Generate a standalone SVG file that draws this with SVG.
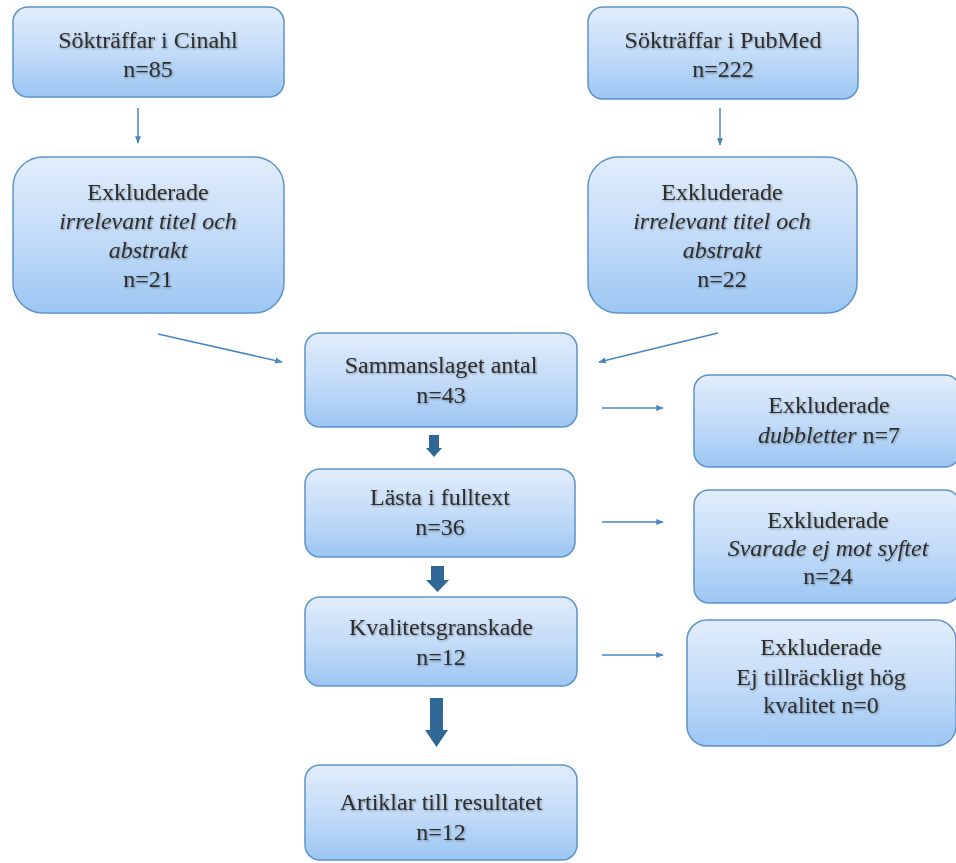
<svg xmlns="http://www.w3.org/2000/svg" width="956" height="863" viewBox="0 0 956 863">
<defs>
<linearGradient id="g" x1="0" y1="0" x2="0" y2="1">
<stop offset="0" stop-color="#e2edfb"/>
<stop offset="0.5" stop-color="#c4dcf8"/>
<stop offset="1" stop-color="#9cc6f3"/>
</linearGradient>
<filter id="ts" x="-5%" y="-20%" width="110%" height="150%">
<feGaussianBlur in="SourceAlpha" stdDeviation="1"/>
<feOffset dx="0.5" dy="1" result="b"/>
<feComponentTransfer><feFuncA type="linear" slope="0.35"/></feComponentTransfer>
<feMerge><feMergeNode/><feMergeNode in="SourceGraphic"/></feMerge>
</filter>
<marker id="ah" viewBox="0 0 10 10" refX="9" refY="5" markerWidth="5" markerHeight="5" orient="auto">
<path d="M0,1 L10,5 L0,9 z" fill="#4a86c0"/>
</marker>
</defs>
<style>
.box{fill:url(#g);stroke:#5f93c9;stroke-width:1.5}
.t{font-family:"Liberation Serif","Times New Roman",serif;font-size:24px;fill:#2e2e2e;text-anchor:middle;filter:url(#ts)}
.i{font-style:italic}
.ln{stroke:#4a86c0;stroke-width:1.5;fill:none;marker-end:url(#ah)}
.blk{fill:#2f6897}
</style>
<rect width="956" height="863" fill="#fff"/>
<g id="cinahl">
<rect class="box" x="13" y="7" width="271" height="90" rx="15"/>
<text class="t" x="148" y="48">Sökträffar i Cinahl</text>
<text class="t" x="148" y="77">n=85</text>
</g>
<g id="pubmed">
<rect class="box" x="588" y="7" width="270" height="92" rx="15"/>
<text class="t" x="723" y="48">Sökträffar i PubMed</text>
<text class="t" x="723" y="77">n=222</text>
</g>
<g id="exkl-cinahl">
<rect class="box" x="13" y="157" width="271" height="156" rx="30"/>
<text class="t" x="148" y="200">Exkluderade</text>
<text class="t i" x="148" y="229">irrelevant titel och</text>
<text class="t i" x="148" y="258">abstrakt</text>
<text class="t" x="148" y="287">n=21</text>
</g>
<g id="exkl-pubmed">
<rect class="box" x="588" y="157" width="269" height="156" rx="30"/>
<text class="t" x="722" y="200">Exkluderade</text>
<text class="t i" x="722" y="229">irrelevant titel och</text>
<text class="t i" x="722" y="258">abstrakt</text>
<text class="t" x="722" y="287">n=22</text>
</g>
<g id="sammanslaget">
<rect class="box" x="305" y="333" width="272" height="94" rx="15"/>
<text class="t" x="441" y="373">Sammanslaget antal</text>
<text class="t" x="441" y="403">n=43</text>
</g>
<g id="exkl-dubbletter">
<rect class="box" x="694" y="375" width="266" height="92" rx="15"/>
<text class="t" x="829" y="413">Exkluderade</text>
<text class="t" x="829" y="443"><tspan class="i">dubbletter</tspan> n=7</text>
</g>
<g id="lasta">
<rect class="box" x="305" y="469" width="270" height="88" rx="15"/>
<text class="t" x="440" y="505">Lästa i fulltext</text>
<text class="t" x="440" y="535">n=36</text>
</g>
<g id="exkl-syftet">
<rect class="box" x="694" y="490" width="266" height="113" rx="15"/>
<text class="t" x="828" y="528">Exkluderade</text>
<text class="t i" x="828" y="556">Svarade ej mot syftet</text>
<text class="t" x="828" y="584">n=24</text>
</g>
<g id="kvalitet">
<rect class="box" x="305" y="597" width="272" height="89" rx="15"/>
<text class="t" x="441" y="635">Kvalitetsgranskade</text>
<text class="t" x="441" y="665">n=12</text>
</g>
<g id="exkl-kvalitet">
<rect class="box" x="687" y="620" width="269" height="126" rx="20"/>
<text class="t" x="821" y="655">Exkluderade</text>
<text class="t" x="821" y="685">Ej tillräckligt hög</text>
<text class="t" x="821" y="713">kvalitet n=0</text>
</g>
<g id="artiklar">
<rect class="box" x="305" y="765" width="272" height="95" rx="15"/>
<text class="t" x="441" y="810">Artiklar till resultatet</text>
<text class="t" x="441" y="840">n=12</text>
</g>
<g id="connectors">
<line class="ln" x1="138" y1="108" x2="138" y2="143"/>
<line class="ln" x1="720" y1="108" x2="720" y2="145"/>
<line class="ln" x1="158" y1="334" x2="282" y2="362"/>
<line class="ln" x1="718" y1="333" x2="599" y2="362"/>
<line class="ln" x1="602" y1="408" x2="663" y2="408"/>
<line class="ln" x1="602" y1="522" x2="663" y2="522"/>
<line class="ln" x1="602" y1="655" x2="663" y2="655"/>
<path class="blk" d="M429,435 h10 v13 h3 l-8,9 l-8,-9 h3 z"/>
<path class="blk" d="M431,566 h13 v14 h5 l-11.5,12 l-11.5,-12 h5 z"/>
<path class="blk" d="M430,698 h13 v32 h5 l-11.5,17 l-11.5,-17 h5 z"/>
</g>
</svg>
